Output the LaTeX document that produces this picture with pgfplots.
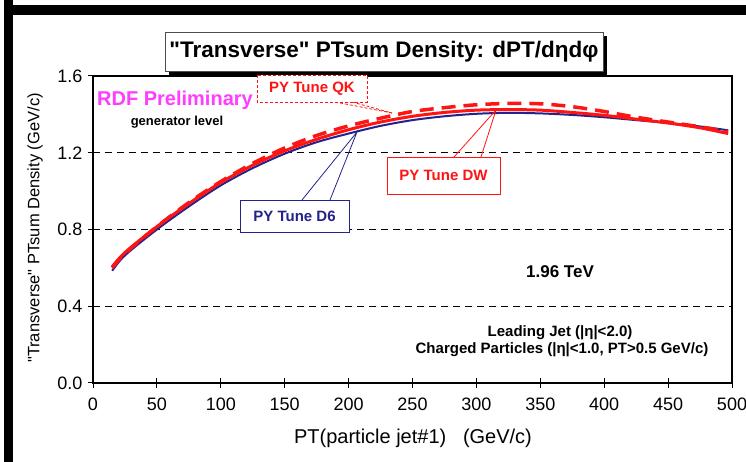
\documentclass[border=0pt]{standalone}
\usepackage{fontspec}
\setmainfont{Liberation Sans}
\usepackage{pgfplots}
\pgfplotsset{compat=1.18}
\definecolor{cdfred}{RGB}{255,20,20}
\definecolor{cdfnavy}{RGB}{35,35,140}
\definecolor{cdfmag}{RGB}{255,60,255}
\begin{document}
\begin{tikzpicture}[x=1pt,y=1pt]
\useasboundingbox (0,0) rectangle (746,462);
\fill[white] (0,0) rectangle (746,462);
\begin{axis}[
  at={(93pt,79pt)}, anchor=south west,
  scale only axis, width=639pt, height=307pt,
  xmin=0, xmax=500, ymin=0, ymax=1.6,
  xtick={0,50,...,500}, ytick={0,0.4,0.8,1.2,1.6},
  xtick pos=bottom, ytick pos=left,
  tick align=center, major tick length=10pt,
  tick style={black, line width=1pt},
  axis line style={black, line width=1.2pt},
  ymajorgrids,
  grid style={black, line width=1.1pt, dash pattern=on 7pt off 5pt},
  /pgf/number format/assume math mode=true,
  ticklabel style={font=\fontsize{18}{20}\selectfont},
  yticklabel style={/pgf/number format/fixed, /pgf/number format/fixed zerofill, /pgf/number format/precision=1, xshift=-2pt},
  xticklabel style={yshift=-6pt},
  scaled ticks=false,
]
\addplot[cdfnavy, line width=2pt, smooth] coordinates {
(15,0.585) (25,0.665) (50,0.80) (75,0.92) (100,1.03) (125,1.12) (150,1.195) (175,1.255) (200,1.30) (225,1.34) (250,1.37) (275,1.39) (300,1.403) (325,1.408) (350,1.405) (375,1.397) (400,1.385) (425,1.37) (450,1.355) (475,1.337) (497,1.317)};
\addplot[cdfred, line width=3pt, smooth] coordinates {
(15,0.605) (25,0.68) (50,0.815) (75,0.935) (100,1.045) (125,1.135) (150,1.21) (175,1.27) (200,1.32) (225,1.36) (250,1.39) (275,1.41) (300,1.422) (325,1.425) (350,1.422) (375,1.41) (400,1.395) (425,1.375) (450,1.355) (475,1.33) (497,1.30)};
\addplot[cdfred, line width=3.5pt, smooth, dash pattern=on 14pt off 8pt] coordinates {
(15,0.60) (25,0.675) (50,0.815) (75,0.94) (100,1.05) (125,1.145) (150,1.225) (175,1.29) (200,1.34) (225,1.38) (250,1.415) (275,1.435) (300,1.45) (325,1.457) (350,1.455) (375,1.44) (400,1.415) (425,1.385) (450,1.36) (475,1.335) (497,1.31)};
\end{axis}
% frame
\fill[black] (4,0) rectangle (13,462);
\fill[black] (4,447) rectangle (746,457);
% title box
\fill[black] (169,387) rectangle (607,426);
\draw[gray!60!black, fill=white, line width=0.6pt] (165,391) rectangle (603,430);
\node[font=\fontsize{22.5}{24}\selectfont\bfseries] at (384,410.5) {\textquotedbl Transverse\textquotedbl\ PTsum Density: dPT/dηdφ};
% axis labels
\node[rotate=90, font=\fontsize{16.5}{18}\selectfont] at (35,234) {\textquotedbl Transverse\textquotedbl\ PTsum Density (GeV/c)};
\node[font=\fontsize{20}{22}\selectfont] at (413,24) {PT(particle jet\#1)\ \ \ (GeV/c)};
% annotations
\node[text=cdfmag, font=\fontsize{20}{22}\selectfont\bfseries] at (175,362) {RDF Preliminary};
\node[font=\fontsize{13}{15}\selectfont\bfseries] at (177,340) {generator level};
% QK
\draw[cdfred, line width=0.8pt, dash pattern=on 3pt off 2pt] (335,360) -- (392,349);
\draw[cdfred, line width=0.8pt, dash pattern=on 3pt off 2pt] (352,360) -- (392,349);
\draw[cdfred, line width=0.8pt, dash pattern=on 3pt off 2pt, fill=white] (257,387) rectangle (367,360);
\node[text=cdfred, font=\fontsize{15}{17}\selectfont\bfseries] at (312,373.5) {PY Tune QK};
% D6
\draw[cdfnavy, line width=0.8pt] (302,262) -- (357,330) -- (330,262);
\draw[cdfnavy, line width=0.8pt, fill=white] (240,262) rectangle (349,230);
\node[text=cdfnavy, font=\fontsize{15}{17}\selectfont\bfseries] at (294.5,246) {PY Tune D6};
% DW
\draw[cdfred, line width=0.8pt] (454,305) -- (496,352) -- (481,305);
\draw[cdfred, line width=0.8pt, fill=white] (387,305) rectangle (500,268);
\node[text=cdfred, font=\fontsize{15}{17}\selectfont\bfseries] at (443.5,286.5) {PY Tune DW};
% info
\node[font=\fontsize{17}{19}\selectfont\bfseries] at (560,190) {1.96 TeV};
\node[font=\fontsize{15}{17}\selectfont\bfseries] at (560,129) {Leading Jet (|η|<2.0)};
\node[font=\fontsize{15}{17}\selectfont\bfseries] at (562,112) {Charged Particles (|η|<1.0, PT>0.5 GeV/c)};
\end{tikzpicture}
\end{document}
